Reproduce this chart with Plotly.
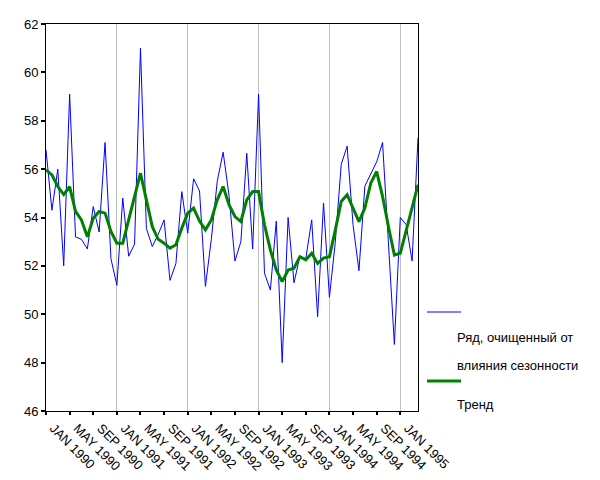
import plotly.graph_objects as go

month_names = ["JAN", "FEB", "MAR", "APR", "MAY", "JUN",
               "JUL", "AUG", "SEP", "OCT", "NOV", "DEC"]
years = [1990, 1991, 1992, 1993, 1994, 1995]
month_labels = [f"{m} {y}" for y in years for m in month_names][:64]

deseasonalized = [
    56.8, 54.3, 56.0, 52.0, 59.1, 53.2, 53.1, 52.7, 54.45, 53.4, 57.1, 52.3,
    51.2, 54.8, 52.4, 52.9, 61.0, 53.55, 52.8, 53.3, 53.9, 51.4, 52.1, 55.07,
    53.35, 55.6, 55.1, 51.15, 53.1, 55.5, 56.7, 54.9, 52.2, 53.0, 56.65, 52.7,
    59.1, 51.7, 51.0, 53.85, 48.0, 54.0, 51.3, 52.4, 52.3, 53.9, 49.9, 54.6,
    50.7, 53.0, 56.2, 56.95, 53.7, 51.8, 55.3, 55.8, 56.3, 57.1, 53.1, 48.75,
    54.0, 53.7, 52.2, 57.3,
]

trend = [
    55.97, 55.76, 55.28, 54.95, 55.28, 54.25, 53.9, 53.2, 53.97, 54.25, 54.18, 53.42,
    52.94, 52.94, 53.9, 54.87, 55.83, 54.73, 53.62, 53.1, 52.94, 52.73, 52.87, 53.56,
    54.18, 54.39, 53.85, 53.49, 53.9, 54.73, 55.28, 54.52, 54.04, 53.83, 54.73, 55.07,
    55.07, 53.7, 52.66, 51.83, 51.35, 51.83, 51.9, 52.38, 52.25, 52.52, 52.1, 52.32,
    52.38, 53.49, 54.66, 54.94, 54.39, 53.83, 54.39, 55.42, 55.9, 54.87, 53.62, 52.45,
    52.52, 53.49, 54.45, 55.35,
]

series_names = ["Ряд, очищенный от<br>влияния сезонности", "Тренд"]
legend_lines = ["Ряд, очищенный от", "влияния сезонности", "Тренд"]

x_idx = list(range(len(month_labels)))
tick_idx = x_idx[::4]
tick_text = ["\u00a0\u00a0\u00a0" + month_labels[i] for i in tick_idx]
jan_idx = [i for i in x_idx if month_labels[i].startswith("JAN") and i > 0]

FONT = "Liberation Sans, Arial, sans-serif"

fig = go.Figure()
fig.add_trace(go.Scatter(x=x_idx, y=deseasonalized, mode="lines",
                         line=dict(color="#0000ff", width=1),
                         name=series_names[0], showlegend=False))
fig.add_trace(go.Scatter(x=x_idx, y=trend, mode="lines",
                         line=dict(color="#008000", width=3),
                         name=series_names[1], showlegend=False))

L, R, T, B = 46, 182, 24, 69
W, H = 600, 480
pw, ph = W - L - R, H - T - B


def px2paper(px, py):
    return (px - L) / pw, (H - B - py) / ph


shapes = []
for py, col, wd in [(312, "#0000ff", 1), (381, "#008000", 3)]:
    x0, y0 = px2paper(427, py)
    x1, _ = px2paper(461, py)
    shapes.append(dict(type="line", xref="paper", yref="paper",
                       x0=x0, x1=x1, y0=y0, y1=y0,
                       line=dict(color=col, width=wd)))

annotations = []
for txt, py in zip(legend_lines, [337, 365, 404]):
    ax, ay = px2paper(455, py)
    annotations.append(dict(text=txt, xref="paper", yref="paper", x=ax, y=ay,
                            xanchor="left", yanchor="middle", showarrow=False,
                            font=dict(family=FONT, size=13, color="black")))

fig.update_layout(
    width=W, height=H, autosize=False,
    margin=dict(l=L, r=R, t=T, b=B),
    paper_bgcolor="white", plot_bgcolor="white",
    font=dict(family=FONT, size=13, color="black"),
    shapes=shapes, annotations=annotations,
    xaxis=dict(range=[0, len(month_labels) - 1],
               tickmode="array", tickvals=tick_idx, ticktext=tick_text,
               tickangle=45, ticks="outside", ticklen=3, tickwidth=2,
               tickcolor="black", showline=True, linecolor="black",
               linewidth=1, mirror=True, showgrid=False, zeroline=False,
               automargin=False, ticklabelstandoff=-7,
               tickfont=dict(family=FONT, size=13, color="black"),
               minor=dict(tickmode="array", tickvals=jan_idx, showgrid=True,
                          gridcolor="#c0c0c0", gridwidth=1, ticks="")),
    yaxis=dict(range=[46, 62], tickmode="linear", tick0=46, dtick=2,
               ticks="outside", ticklen=4, tickwidth=2, tickcolor="black",
               showline=True, linecolor="black", linewidth=1, mirror=True,
               showgrid=False, zeroline=False, automargin=False,
               tickfont=dict(family=FONT, size=13, color="black")),
)

fig.write_html("out.html")
